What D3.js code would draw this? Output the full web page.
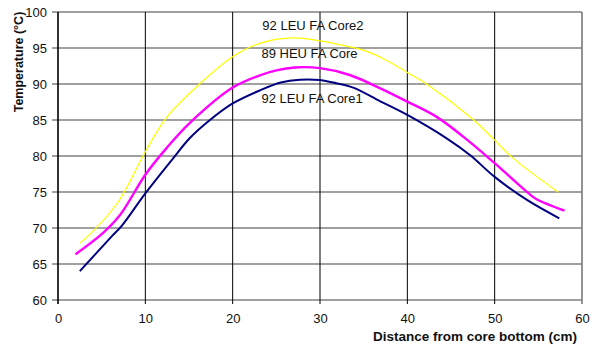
<!DOCTYPE html>
<html>
<head>
<meta charset="utf-8">
<script src="https://cdn.jsdelivr.net/npm/d3@7"></script>
<style>
	body { margin: 0; background: #fff; }
	text { font-family: "Liberation Sans", Arial, sans-serif; fill: #111; }
</style>
</head>
<body>
<div id="chart"></div>
<script>
// distance from core bottom (cm) / temperature (°C)
let core1X = [2.5, 6.2, 7.3, 10, 13, 15.1, 17.4, 20, 23.1, 25.5, 27.7, 30, 31.5, 33.8, 36.9, 40, 44.5, 47.2, 50, 53.7, 57.4];
let core1T = [64.0, 68.9, 70.3, 74.8, 79.4, 82.5, 85.0, 87.3, 89.1, 90.2, 90.6, 90.55, 90.2, 89.5, 87.6, 85.7, 82.45, 80.1, 77.1, 73.9, 71.35];

let heuX = [2.0, 5.1, 7.1, 10, 12.5, 15.1, 20, 23.1, 25, 27.1, 30, 33.4, 36.9, 40, 43.4, 47.2, 50, 53.9, 54.8, 58.0];
let heuT = [66.35, 69.25, 71.8, 77.4, 81.2, 84.6, 89.5, 91.2, 91.9, 92.3, 92.2, 91.25, 89.4, 87.55, 85.4, 81.9, 79.0, 74.8, 74.0, 72.4];

let core2X = [2.5, 3.85, 6.9, 10, 12.4, 16.3, 20, 23.1, 26.9, 30, 32.5, 35, 37.6, 40, 42.2, 47.6, 50, 52.1, 57.3];
let core2T = [67.9, 69.35, 73.65, 80.6, 85.3, 90.1, 93.8, 95.65, 96.4, 96.0, 95.4, 94.7, 93.3, 91.6, 90.0, 85.0, 82.2, 79.7, 74.95];

let xTicks = [0, 10, 20, 30, 40, 50, 60];
let yTicks = [60, 65, 70, 75, 80, 85, 90, 95, 100];

let seriesNames = ["92 LEU FA Core2", "89 HEU FA Core", "92 LEU FA Core1"];

let margin = { top: 12, right: 11, bottom: 44, left: 58 };
let W = 593, H = 344;
let width = W - margin.left - margin.right,
	height = H - margin.top - margin.bottom;

let svg = d3.select('#chart').append('svg')
	.attr('width', W)
	.attr('height', H)
	.append('g')
	.attr('transform', 'translate(' + margin.left + ',' + margin.top + ')');

let x = d3.scaleLinear().domain([0, 60]).range([0, width]);
let y = d3.scaleLinear().domain([60, 100]).range([height, 0]);

// horizontal grid (grey)
svg.selectAll('.hgrid')
	.data(yTicks)
	.enter().append('line').classed('hgrid', true)
	.attr('x1', -6).attr('x2', width)
	.attr('y1', d => y(d)).attr('y2', d => y(d))
	.attr('stroke', '#808080')
	.attr('stroke-width', 1.7);

// vertical grid (black), last one is the grey border
svg.selectAll('.vgrid')
	.data(xTicks)
	.enter().append('line').classed('vgrid', true)
	.attr('x1', d => x(d)).attr('x2', d => x(d))
	.attr('y1', 0).attr('y2', height + 4)
	.attr('stroke', d => d === 60 ? '#808080' : '#000')
	.attr('stroke-width', d => d === 60 ? 1.7 : 1);

// axes, only labels (lines drawn above)
let xAxis = d3.axisBottom(x).tickValues(xTicks).tickSize(0).tickPadding(14);
let yAxis = d3.axisLeft(y).tickValues(yTicks).tickSize(0).tickPadding(11);

let gx = svg.append('g')
	.attr('transform', 'translate(0,' + height + ')')
	.call(xAxis);
let gy = svg.append('g').call(yAxis);

[gx, gy].forEach(g => {
	g.select('.domain').remove();
	g.selectAll('text')
		.style('font-size', '13px')
		.style('font-family', '"Liberation Sans", Arial, sans-serif')
		.attr('fill', '#111');
});

// series
let line = d3.line()
	.curve(d3.curveCatmullRom.alpha(0.5))
	.x(d => x(d[0]))
	.y(d => y(d[1]));

let series = [
	{ name: seriesNames[0], xs: core2X, ts: core2T, color: '#ffff00', w: 1.2 },
	{ name: seriesNames[1], xs: heuX, ts: heuT, color: '#ff00ff', w: 2.4 },
	{ name: seriesNames[2], xs: core1X, ts: core1T, color: '#000080', w: 2 }
];

svg.selectAll('.serie')
	.data(series)
	.enter().append('path').classed('serie', true)
	.attr('d', d => line(d.xs.map((v, i) => [v, d.ts[i]])))
	.attr('fill', 'none')
	.attr('stroke', d => d.color)
	.attr('stroke-width', d => d.w);

// series labels
let labelPos = [[23.4, 97.5], [23.3, 93.6], [23.3, 87.4]];
svg.selectAll('.lab')
	.data(series)
	.enter().append('text').classed('lab', true)
	.attr('x', (d, i) => x(labelPos[i][0]))
	.attr('y', (d, i) => y(labelPos[i][1]))
	.style('font-size', '13px')
	.text(d => d.name);

// left axis line
svg.append('line')
	.attr('x1', 0).attr('x2', 0)
	.attr('y1', 0).attr('y2', height + 4)
	.attr('stroke', '#000')
	.attr('stroke-width', 1.2);

// titles
svg.append('text')
	.attr('transform', 'translate(' + (22.5 - margin.left) + ',' + (62 - margin.top) + ') rotate(-90)')
	.attr('text-anchor', 'middle')
	.style('font-size', '12.5px')
	.style('font-weight', 'bold')
	.text('Temperature (°C)');

svg.append('text')
	.attr('x', 577 - margin.left)
	.attr('y', 341 - margin.top)
	.attr('text-anchor', 'end')
	.style('font-size', '13.5px')
	.style('font-weight', 'bold')
	.text('Distance from core bottom (cm)');
</script>
</body>
</html>
